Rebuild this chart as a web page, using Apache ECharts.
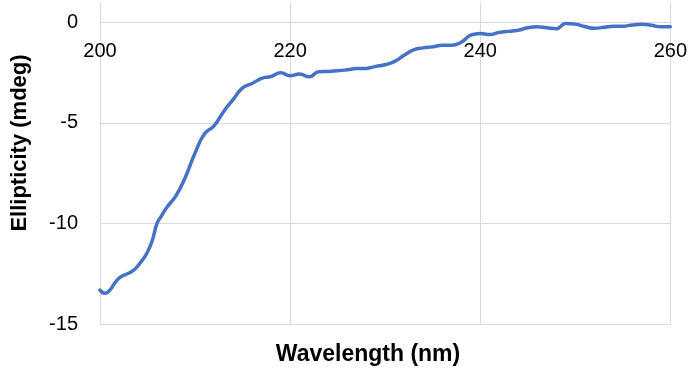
<!DOCTYPE html>
<html>
<head>
<meta charset="utf-8">
<script src="https://cdn.jsdelivr.net/npm/echarts@6/dist/echarts.min.js"></script>
<style>
  html, body { margin: 0; padding: 0; background: #fff; }
  #chart { width: 690px; height: 371px; }
</style>
</head>
<body>
<div id="chart"></div>
<script>
// CD spectrum: wavelength (nm) vs ellipticity (mdeg)
const wavelengths = [
  200, 200.5, 201, 201.5, 202, 202.5, 203, 203.5, 204, 204.5,
  205, 205.5, 206, 206.5, 207, 208, 209,
  210, 211, 212, 213, 214, 215, 216, 217, 218, 219,
  220, 221, 222, 223, 224, 225, 226, 227, 228, 229,
  230, 231, 232, 233, 234, 235, 236, 237, 238, 239,
  240, 241, 242, 243, 244, 245, 246, 247, 248, 249,
  250, 251, 252, 253, 254, 255, 256, 257, 258, 259, 260
];
const ellipticity = [
  -13.32, -13.47, -13.33, -13.0, -12.72, -12.58, -12.48, -12.34, -12.1, -11.8,
  -11.42, -10.85, -10.0, -9.6, -9.22, -8.62, -7.68,
  -6.5, -5.55, -5.15, -4.45, -3.85, -3.27, -3.05, -2.8, -2.7, -2.52,
  -2.67, -2.58, -2.72, -2.47, -2.45, -2.42, -2.37, -2.31, -2.3, -2.2,
  -2.12, -1.95, -1.65, -1.38, -1.28, -1.23, -1.15, -1.15, -1.0, -0.65,
  -0.56, -0.62, -0.51, -0.46, -0.4, -0.28, -0.23, -0.28, -0.33, -0.07,
  -0.1, -0.22, -0.31, -0.26, -0.2, -0.2, -0.14, -0.11, -0.16, -0.23, -0.23
];
const xTicks = [200, 220, 240, 260];
const yTicks = [-15, -10, -5, 0];
const yTop = 1; // plot area reaches a little above the 0 line
const xTitle = 'Wavelength (nm)';
const yTitle = 'Ellipticity (mdeg)';

const gridColor = '#d9d9d9';
const font = '"Liberation Sans", Arial, sans-serif';

const W = 690, H = 371;
const grid = { left: 100, right: 19, top: 2, bottom: 47 };
const plotH = H - grid.top - grid.bottom;
// lift the horizontal axis from the bottom edge up to the zero line
const zeroOffset = -plotH * (0 - yTicks[0]) / (yTop - yTicks[0]);

const chart = echarts.init(document.getElementById('chart'), null, { renderer: 'canvas' });
chart.setOption({
  animation: false,
  backgroundColor: '#fff',
  grid: Object.assign({ containLabel: false }, grid),
  xAxis: {
    type: 'value',
    position: 'bottom',
    offset: zeroOffset,
    min: xTicks[0],
    max: xTicks[xTicks.length - 1],
    interval: xTicks[1] - xTicks[0],
    axisLine: { show: true, onZero: false, lineStyle: { color: gridColor, width: 1 } },
    axisTick: { show: false },
    axisLabel: { color: '#000', fontSize: 20, fontFamily: font, margin: 19 },
    splitLine: { show: true, lineStyle: { color: gridColor, width: 1 } }
  },
  yAxis: {
    type: 'value',
    min: yTicks[0],
    max: yTop,
    interval: yTicks[1] - yTicks[0],
    axisLine: { show: false },
    axisTick: { show: false },
    axisLabel: {
      color: '#000', fontSize: 20, fontFamily: font, margin: 22,
      showMaxLabel: false,
      formatter: v => (yTicks.indexOf(v) >= 0 ? String(v) : '')
    },
    splitLine: { show: true, showMaxLine: false, lineStyle: { color: gridColor, width: 1 } }
  },
  series: [{
    type: 'line',
    data: wavelengths.map((w, i) => [w, ellipticity[i]]),
    smooth: 0.5,
    showSymbol: false,
    lineStyle: { color: '#4472c4', width: 3.5, cap: 'round', join: 'round' },
    itemStyle: { color: '#4472c4' }
  }],
  graphic: [
    {
      type: 'text',
      x: 368, y: 355,
      style: {
        text: xTitle, fill: '#000', font: 'bold 23px ' + font,
        textAlign: 'center', textVerticalAlign: 'middle'
      }
    },
    {
      type: 'text',
      x: 20, y: 143,
      rotation: Math.PI / 2,
      style: {
        text: yTitle, fill: '#000', font: 'bold 22px ' + font,
        textAlign: 'center', textVerticalAlign: 'middle'
      }
    }
  ]
});
</script>
</body>
</html>
